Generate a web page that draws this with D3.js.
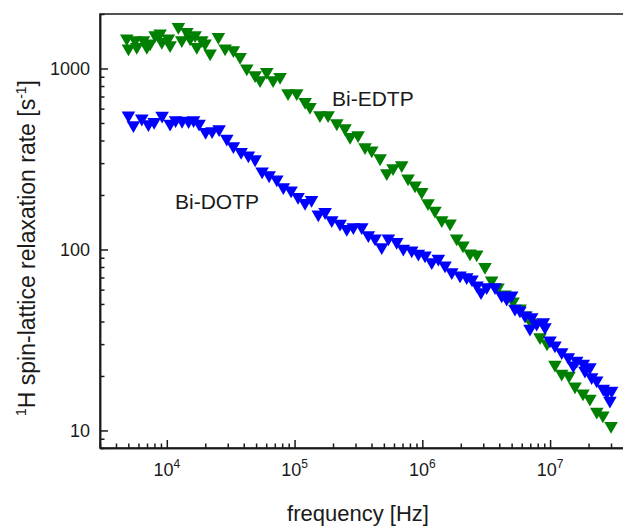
<!DOCTYPE html>
<html>
<meta charset="utf-8">
<style>
  body { margin: 0; background: #fff; }
  svg { font-family: Arial, "Liberation Sans", sans-serif; }
  .axis path, .axis line { stroke: #1a1a1a; stroke-width: 1.5; }
  .frame { fill: none; stroke: #1a1a1a; stroke-width: 1.5; }
</style>
<body>
<script src="https://d3js.org/d3.v7.min.js"></script>
<div id="chart"></div>
<script>
// Bi-EDTP (green) - frequency [Hz] and relaxation rate [s^-1]
var edtpFreq = [4860, 5010, 5650, 5820, 6560, 6975, 7400, 8100, 8860, 9140,
  10290, 10610, 12320, 13100, 14340, 15220, 16650, 17170, 18790, 19930,
  21830, 25330, 28590, 33200, 37460, 42270,
  49100, 53700, 60600, 67900, 77000, 88900,
  104000, 121000, 132000, 158000, 183000, 214000, 248000, 272000, 314000, 356000,
  402000, 467000, 527000, 590000, 690000, 773000, 877000, 989000,
  1108000, 1256000, 1419000, 1648000, 1858000, 2081000, 2361000, 2666000, 3094000, 3490000,
  3910000, 4440000, 5130000, 5810000, 6480000, 7090000, 8340000, 9460000,
  10920000, 12330000, 14060000, 15670000, 18080000, 20500000, 23200000, 25900000, 30000000];
var edtpRate = [1466, 1290, 1434, 1317, 1434, 1317, 1375, 1528, 1562, 1403,
  1466, 1346, 1698, 1434, 1594, 1466, 1528, 1317, 1434, 1375,
  1210, 1496, 1290, 1262, 1159, 1000,
  918, 862, 958, 862, 899, 730,
  730, 654, 613, 552, 552, 498, 468, 419, 428, 368,
  353, 319, 264, 281, 292, 247, 226, 208,
  180, 164, 145, 139.5, 115, 105.4, 95.1, 94.0, 80.0, 67.5,
  61.7, 56.5, 51.6, 47.2, 43.2, 39.5, 32.8, 30.3,
  23.1, 20.6, 20.1, 17.5, 16.0, 15.0, 12.7, 12.1, 10.6];

// Bi-DOTP (blue)
var dotpFreq = [5010, 5480, 6370, 7180, 7960, 9190, 10610, 11720, 13170, 14810,
  16210, 17890, 20120, 22620, 25660, 29480, 33200, 38150, 43500, 49100,
  55700, 63200, 72600, 81700, 93900, 106500, 120800, 135800, 153500, 173300,
  195500, 227000, 256200, 288400, 335700, 378000, 426600, 481000, 542000, 630000,
  710000, 826000, 931000, 1050000, 1185000, 1335000, 1505000, 1700000, 1972000, 2225000,
  2449000, 2680000, 2880000, 3190000, 3707000, 4180000, 4570000, 5006000, 5310000, 5810000,
  6360000, 6960000, 7180000, 7850000, 8850000, 9120000, 9980000, 10920000, 12330000, 13880000,
  15190000, 16150000, 18190000, 18750000, 20500000, 21160000, 23160000, 26070000, 27730000, 29400000,
  30340000];
var dotpRate = [551, 486, 529, 492, 507, 548, 496, 518, 514, 511,
  518, 496, 446, 450, 462, 410, 372, 346, 331, 315,
  270, 257, 244, 221, 212, 195, 181, 188, 156, 161,
  145, 139, 130, 133, 133, 120, 115, 103, 115, 110,
  101, 98.9, 94.8, 92.8, 85.2, 88.9, 81.7, 75.0, 71.9, 70.4,
  68.4, 63.3, 58.1, 61.9, 61.9, 55.7, 53.5, 55.7, 47.1, 46.1,
  43.2, 36.5, 42.3, 38.9, 39.7, 37.2, 31.4, 29.5, 27.1, 25.4,
  22.9, 24.3, 23.4, 21.4, 22.4, 19.7, 18.9, 17.0, 16.3, 14.6,
  16.6];

var xMajor = [1e4, 1e5, 1e6, 1e7];
var xExp = ["4", "5", "6", "7"];
var yMajor = [10, 100, 1000];

var width = 623, height = 526;
var plotL = 100, plotR = 627, plotT = 14, plotB = 448;

var svg = d3.select("#chart").append("svg")
    .attr("width", width).attr("height", height);

var x = d3.scaleLog().domain([3000, 4e7]).range([plotL, plotR]);
var y = d3.scaleLog().domain([8, 2000]).range([plotB, plotT]);

function isMajor(v) {
  var l = Math.log10(v);
  return Math.abs(l - Math.round(l)) < 1e-6;
}
var xMinor = x.ticks().filter(function(v) { return !isMajor(v); });
var yMinor = y.ticks().filter(function(v) { return !isMajor(v); });

// frame
svg.append("rect").attr("class", "frame")
    .attr("x", plotL).attr("y", plotT)
    .attr("width", plotR - plotL).attr("height", plotB - plotT);

// x axis (ticks point inward)
svg.append("g").attr("class", "axis")
    .attr("transform", "translate(0," + plotB + ")")
    .call(d3.axisBottom(x).tickValues(xMinor).tickSize(-4.5).tickSizeOuter(0).tickFormat(""));
svg.append("g").attr("class", "axis")
    .attr("transform", "translate(0," + plotB + ")")
    .call(d3.axisBottom(x).tickValues(xMajor).tickSize(-8).tickSizeOuter(0).tickFormat(""));

// y axis
svg.append("g").attr("class", "axis")
    .attr("transform", "translate(" + plotL + ",0)")
    .call(d3.axisLeft(y).tickValues(yMinor).tickSize(-4.5).tickSizeOuter(0).tickFormat(""));
svg.append("g").attr("class", "axis")
    .attr("transform", "translate(" + plotL + ",0)")
    .call(d3.axisLeft(y).tickValues(yMajor).tickSize(-8).tickSizeOuter(0).tickFormat(""));

// tick labels
var xl = svg.selectAll(".xlab").data(xMajor).enter().append("text")
    .attr("class", "xlab")
    .attr("x", function(d) { return x(d); })
    .attr("y", 476)
    .attr("text-anchor", "middle")
    .style("font-size", "18px")
    .attr("fill", "#1a1a1a");
xl.append("tspan").text("10");
xl.append("tspan").attr("dy", -8).style("font-size", "12px")
    .text(function(d, i) { return xExp[i]; });

svg.selectAll(".ylab").data(yMajor).enter().append("text")
    .attr("class", "ylab")
    .attr("x", 90)
    .attr("y", function(d) { return y(d); })
    .attr("dy", "0.36em")
    .attr("text-anchor", "end")
    .style("font-size", "18px")
    .attr("fill", "#1a1a1a")
    .text(function(d) { return d; });

// axis titles
svg.append("text")
    .attr("x", 358).attr("y", 521)
    .attr("text-anchor", "middle")
    .style("font-size", "22px")
    .attr("fill", "#1a1a1a")
    .text("frequency [Hz]");

var yt = svg.append("text")
    .attr("transform", "translate(35,248) rotate(-90)")
    .attr("text-anchor", "middle")
    .style("font-size", "23px")
    .attr("fill", "#1a1a1a");
yt.append("tspan").attr("dy", -9).style("font-size", "14px").text("1");
yt.append("tspan").attr("dy", 9).text("H spin-lattice relaxation rate [s");
yt.append("tspan").attr("dy", -9).style("font-size", "14px").text("-1");
yt.append("tspan").attr("dy", 9).text("]");

// markers: green first, blue on top
var tri = d3.symbol().type(d3.symbolTriangle).size(80);

var edtp = edtpFreq.map(function(f, i) { return [f, edtpRate[i]]; });
var dotp = dotpFreq.map(function(f, i) { return [f, dotpRate[i]]; });

svg.append("g").selectAll("path").data(edtp).enter().append("path")
    .attr("d", tri)
    .attr("transform", function(d) { return "translate(" + x(d[0]) + "," + y(d[1]) + ") rotate(180)"; })
    .attr("fill", "#008000");

svg.append("g").selectAll("path").data(dotp).enter().append("path")
    .attr("d", tri)
    .attr("transform", function(d) { return "translate(" + x(d[0]) + "," + y(d[1]) + ") rotate(180)"; })
    .attr("fill", "#0000ff");

// series labels
svg.append("text").attr("x", 332).attr("y", 106)
    .style("font-size", "21px").attr("fill", "#1a1a1a").text("Bi-EDTP");
svg.append("text").attr("x", 175).attr("y", 209)
    .style("font-size", "21px").attr("fill", "#1a1a1a").text("Bi-DOTP");
</script>
</body>
</html>
